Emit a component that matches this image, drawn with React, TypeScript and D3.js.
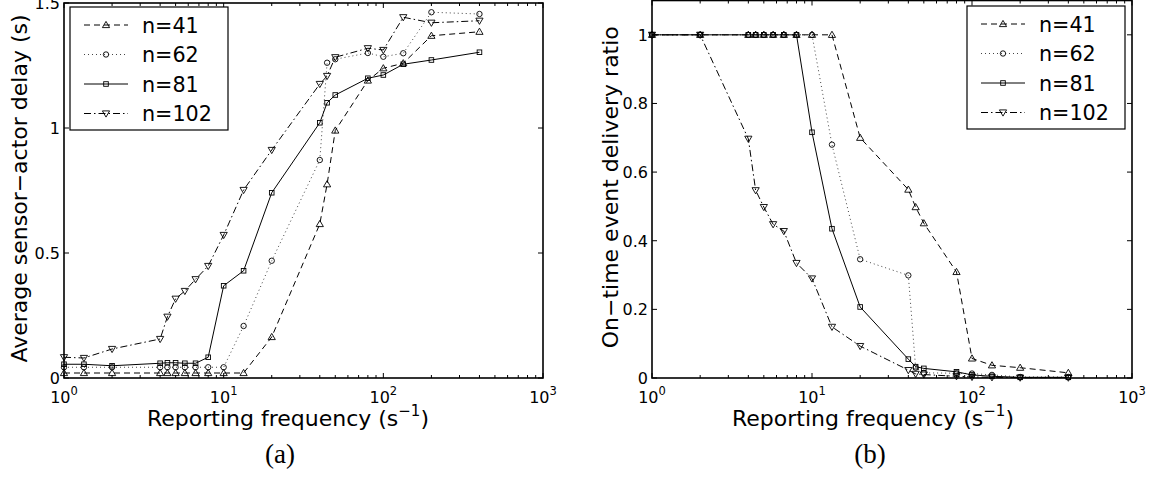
import React from 'react'
import * as d3 from 'd3'

// reporting frequencies (s^-1)
const freqA = [1, 1.333, 2, 4, 4.444, 5, 5.714, 6.667, 8, 10, 13.33, 20, 40, 44.44, 50, 80, 100, 133.3, 200, 400]
const freqB = [1, 2, 4, 4.444, 5, 5.714, 6.667, 8, 10, 13.33, 20, 40, 44.44, 50, 80, 100, 133.3, 200, 400]

const seriesNames = ['n=41', 'n=62', 'n=81', 'n=102']

// (a) average sensor-actor delay
const delay41 = [0.02, 0.02, 0.02, 0.02, 0.02, 0.02, 0.02, 0.02, 0.02, 0.02, 0.02, 0.164, 0.616, 0.775, 0.99, 1.19, 1.239, 1.259, 1.369, 1.385]
const delay62 = [0.043, 0.043, 0.043, 0.043, 0.043, 0.043, 0.043, 0.043, 0.043, 0.043, 0.208, 0.469, 0.872, 1.261, 1.275, 1.3, 1.285, 1.299, 1.463, 1.456]
const delay81 = [0.055, 0.055, 0.049, 0.059, 0.061, 0.061, 0.059, 0.059, 0.083, 0.369, 0.429, 0.741, 1.021, 1.101, 1.132, 1.199, 1.212, 1.255, 1.272, 1.303]
const delay102 = [0.083, 0.08, 0.116, 0.156, 0.245, 0.317, 0.348, 0.395, 0.448, 0.572, 0.752, 0.912, 1.176, 1.208, 1.283, 1.319, 1.312, 1.443, 1.421, 1.429]

// (b) on-time event delivery ratio
const ratio41 = [1, 1, 1, 1, 1, 1, 1, 1, 1, 1, 0.7, 0.549, 0.498, 0.451, 0.309, 0.057, 0.037, 0.03, 0.015]
const ratio62 = [1, 1, 1, 1, 1, 1, 1, 1, 1, 0.68, 0.346, 0.299, 0.03, 0.015, 0.014, 0.013, 0.009, 0.003, 0.003]
const ratio81 = [1, 1, 1, 1, 1, 1, 1, 1, 0.716, 0.435, 0.207, 0.055, 0.033, 0.028, 0.018, 0.009, 0.005, 0.002, 0.002]
const ratio102 = [1, 1, 0.697, 0.547, 0.498, 0.448, 0.428, 0.335, 0.29, 0.149, 0.093, 0.023, 0.012, 0.01, 0.005, 0.003, 0.002, 0.001, 0.001]

const xTickExps = [0, 1, 2, 3]
const yTicksA = [0, 0.5, 1, 1.5]
const yTicksB = [0, 0.2, 0.4, 0.6, 0.8, 1]

const SANS = '"DejaVu Sans", Verdana, sans-serif'
const SERIF = '"Liberation Serif", "Times New Roman", serif'

const styles = [
  { dash: '6,4', marker: 'up' },
  { dash: '1,3', marker: 'circle' },
  { dash: null, marker: 'square' },
  { dash: '7,3,1.5,3', marker: 'down' },
]

function Marker({ kind, cx, cy }: { kind: string; cx: number; cy: number }) {
  const p = { fill: 'none', stroke: '#000', strokeWidth: 0.9 }
  if (kind === 'circle') return <circle cx={cx} cy={cy} r={2.7} {...p} />
  if (kind === 'square') return <rect x={cx - 2.3} y={cy - 2.3} width={4.6} height={4.6} {...p} />
  if (kind === 'up') return <path d={`M${cx},${cy - 3.6}L${cx + 3.6},${cy + 2.6}L${cx - 3.6},${cy + 2.6}Z`} {...p} />
  return <path d={`M${cx},${cy + 3.6}L${cx + 3.6},${cy - 2.6}L${cx - 3.6},${cy - 2.6}Z`} {...p} />
}

type PanelProps = {
  id: string
  left: number
  right: number
  top: number
  bottom: number
  yMax: number
  yTicks: number[]
  freq: number[]
  values: number[][]
  legendX: number
  legendY: number
  yLabel: string
  yLabelX: number
  xLabelX: number
  caption: string
  captionX: number
}

function Panel(props: PanelProps) {
  const { id, left, right, top, bottom, yMax, yTicks, freq, values, legendX, legendY } = props
  const x = d3.scaleLog().domain([1, 1000]).range([left, right])
  const y = d3.scaleLinear().domain([0, yMax]).range([bottom, top])
  const line = d3.line<number>().x((_, i) => x(freq[i])).y(d => y(d))
  const minor = x.ticks().filter(t => Math.abs(Math.log10(t) - Math.round(Math.log10(t))) > 1e-6)
  const legRows = [18, 47.5, 77, 106.5]

  return (
    <g>
      {/* minor + major ticks, bottom and top */}
      {minor.map(t => (
        <g key={'m' + t} stroke="#000" strokeWidth={1}>
          <line x1={x(t)} x2={x(t)} y1={bottom} y2={bottom - 3} />
          <line x1={x(t)} x2={x(t)} y1={top} y2={top + 3} />
        </g>
      ))}
      {xTickExps.map(e => (
        <g key={'M' + e}>
          <line x1={x(10 ** e)} x2={x(10 ** e)} y1={bottom} y2={bottom - 5} stroke="#000" />
          <line x1={x(10 ** e)} x2={x(10 ** e)} y1={top} y2={top + 5} stroke="#000" />
          <text x={x(10 ** e)} y={403} textAnchor="middle" fontFamily={SANS} fontSize={16}>
            10<tspan dy={-8} fontSize={11.5}>{e}</tspan>
          </text>
        </g>
      ))}
      {yTicks.map(t => (
        <g key={'y' + t}>
          <line x1={left} x2={left + 5} y1={y(t)} y2={y(t)} stroke="#000" />
          <line x1={right} x2={right - 5} y1={y(t)} y2={y(t)} stroke="#000" />
          <text x={left - 4} y={y(t) + 6} textAnchor="end" fontFamily={SANS} fontSize={16}>
            {String(t)}
          </text>
        </g>
      ))}

      {/* series */}
      {values.map((vals, si) => (
        <g key={'s' + si}>
          <path
            d={line(vals) || ''}
            fill="none"
            stroke={si === 1 ? '#444' : '#000'}
            strokeWidth={1}
            strokeDasharray={styles[si].dash || undefined}
          />
          {vals.map((v, i) => (
            <Marker key={i} kind={styles[si].marker} cx={x(freq[i])} cy={y(v)} />
          ))}
        </g>
      ))}

      {/* frame */}
      <rect x={left} y={top} width={right - left} height={bottom - top} fill="none" stroke="#000" strokeWidth={1.6} />

      {/* legend */}
      <g transform={`translate(${legendX},${legendY})`}>
        <rect x={0} y={0} width={158} height={123} fill="#fff" stroke="#000" strokeWidth={1.2} />
        {seriesNames.map((name, si) => (
          <g key={name}>
            <line
              x1={14}
              x2={58}
              y1={legRows[si]}
              y2={legRows[si]}
              stroke={si === 1 ? '#444' : '#000'}
              strokeWidth={1}
              strokeDasharray={styles[si].dash || undefined}
            />
            <Marker kind={styles[si].marker} cx={36} cy={legRows[si]} />
            <text x={72} y={legRows[si] + 7.5} fontFamily={SANS} fontSize={20.7}>
              {name}
            </text>
          </g>
        ))}
      </g>

      {/* axis labels */}
      <text
        transform={`translate(${props.yLabelX},${(top + bottom) / 2 - 2}) rotate(-90)`}
        textAnchor="middle"
        fontFamily={SANS}
        fontSize={22}
      >
        {props.yLabel}
      </text>
      <clipPath id={'clip' + id}>
        <rect x={0} y={0} width={1172} height={430} />
      </clipPath>
      <text x={props.xLabelX} y={426} textAnchor="middle" fontFamily={SANS} fontSize={22} clipPath={`url(#clip${id})`}>
        Reporting frequency (s<tspan dy={-10} fontSize={15}>−1</tspan>
        <tspan dy={10}>)</tspan>
      </text>
      <text x={props.captionX} y={463} textAnchor="middle" fontFamily={SERIF} fontSize={27}>
        {props.caption}
      </text>
    </g>
  )
}

export default function App() {
  return (
    <div style={{ position: 'absolute', left: 0, top: 0 }}>
      <svg width={1172} height={483} style={{ display: 'block', background: '#fff' }}>
        <Panel
          id="a"
          left={64}
          right={543}
          top={3}
          bottom={378}
          yMax={1.5}
          yTicks={yTicksA}
          freq={freqA}
          values={[delay41, delay62, delay81, delay102]}
          legendX={70}
          legendY={7}
          yLabel="Average sensor−actor delay (s)"
          yLabelX={27}
          xLabelX={288}
          caption="(a)"
          captionX={280}
        />
        <Panel
          id="b"
          left={652}
          right={1132}
          top={0.5}
          bottom={378}
          yMax={1.1}
          yTicks={yTicksB}
          freq={freqB}
          values={[ratio41, ratio62, ratio81, ratio102]}
          legendX={967}
          legendY={6}
          yLabel="On−time event delivery ratio"
          yLabelX={618}
          xLabelX={873}
          caption="(b)"
          captionX={870}
        />
      </svg>
    </div>
  )
}
